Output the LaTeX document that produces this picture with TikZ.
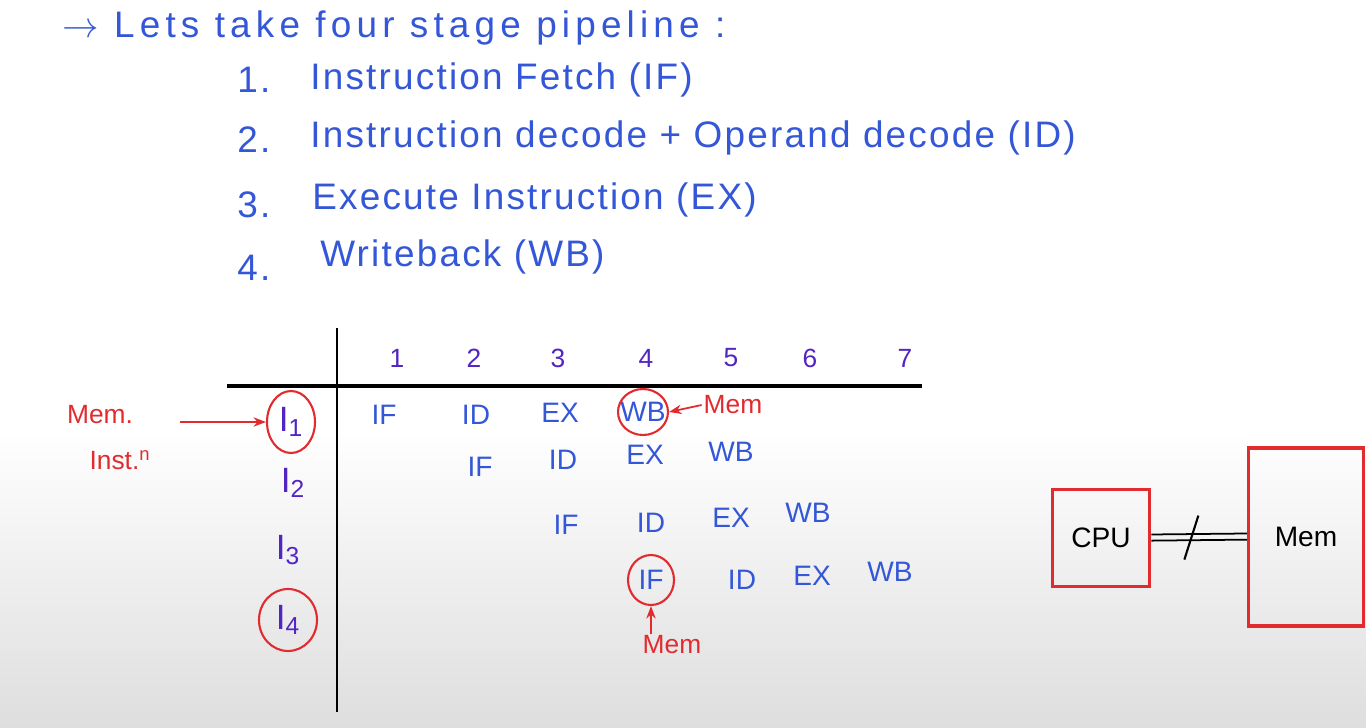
\documentclass[tikz,border=0pt]{standalone}
\usepackage{fontspec}
\setmainfont{Liberation Sans}
\usetikzlibrary{arrows.meta, positioning, calc, shapes.geometric}
\definecolor{penblue}{HTML}{3457D8}
\definecolor{penviolet}{HTML}{5224C4}
\definecolor{penred}{HTML}{E22B2F}

\begin{document}
\begin{tikzpicture}[x=0.02cm, y=-0.02cm,
    heading/.style={anchor=west, text=penblue, inner sep=0pt,
      font=\fontsize{21}{24}\selectfont\addfontfeature{LetterSpace=6}},
    cell/.style={text=penblue, inner sep=1pt, font=\fontsize{16}{18}\selectfont},
    colnum/.style={text=penviolet, font=\fontsize{15}{18}\selectfont},
    rowlab/.style={text=penviolet, font=\fontsize{20}{22}\selectfont},
    ring/.style={draw=penred, line width=1.2pt, ellipse, inner sep=0pt},
    note/.style={text=penred, inner sep=1pt, font=\fontsize{15}{18}\selectfont},
    redarrow/.style={penred, line width=1pt, -{Stealth[length=2.5mm]}},
    unitbox/.style={draw=penred, line width=2pt, font=\fontsize{16}{18}\selectfont}]
    \useasboundingbox (0,0) rectangle (1366,727);
    \fill[white] (0,0) rectangle (1366,727);
    \shade[top color=white, bottom color=black!13] (0,430) rectangle (1366,727);

    % the four stages
    \node[heading, font=\fontsize{21}{24}\selectfont\addfontfeature{LetterSpace=14}]
      (title) at (62,28) {$\rightarrow$ Lets take four stage pipeline :};
    \foreach \k/\y in {1/80,2/140,3/205,4/268}{%
      \node[heading] (num\k) at (237,\y) {\k.};}
    \node[heading] (st1) at (310,80) {Instruction Fetch (IF)};
    \node[heading] (st2) at (310,138) {Instruction decode + Operand decode (ID)};
    \node[heading] (st3) at (312,200) {Execute Instruction (EX)};
    \node[heading] (st4) at (320,257) {Writeback (WB)};

    % space-time table
    \draw[black, line width=1.7pt] (337,328) -- (337,712);
    \draw[black, line width=2.2pt] (227,386) -- (922,386);
    \foreach \n/\x in {1/397,2/474,3/558,4/646,5/731,6/810,7/905}{%
      \node[colnum] (col\n) at (\x,358) {\n};}
    \node[rowlab] (i1) at (291,422) {I\textsubscript{1}};
    \node[rowlab] (i2) at (293,483) {I\textsubscript{2}};
    \node[rowlab] (i3) at (288,550) {I\textsubscript{3}};
    \node[rowlab] (i4) at (288,620) {I\textsubscript{4}};

    \node[cell] (if1) at (384,415) {IF};
    \node[cell] (id1) at (476,415) {ID};
    \node[cell] (ex1) at (560,413) {EX};
    \node[cell] (wb1) at (643,412) {WB};
    \node[cell] (if2) at (480,467) {IF};
    \node[cell] (id2) at (563,460) {ID};
    \node[cell] (ex2) at (645,455) {EX};
    \node[cell] (wb2) at (731,452) {WB};
    \node[cell] (if3) at (566,525) {IF};
    \node[cell] (id3) at (651,523) {ID};
    \node[cell] (ex3) at (731,518) {EX};
    \node[cell] (wb3) at (808,513) {WB};
    \node[cell] (if4) at (651,580) {IF};
    \node[cell] (id4) at (742,580) {ID};
    \node[cell] (ex4) at (812,576) {EX};
    \node[cell] (wb4) at (890,572) {WB};

    % memory accesses
    \node[ring, minimum width=0.96cm, minimum height=1.24cm] (i1ring) at (i1) {};
    \node[ring, minimum width=1.16cm, minimum height=1.24cm] (i4ring) at (i4) {};
    \node[ring, minimum width=1cm, minimum height=0.92cm] (wb1ring) at (wb1) {};
    \node[ring, minimum width=0.92cm, minimum height=1cm] (if4ring) at (if4) {};

    \node[note] (memi) at (100,415) {Mem.};
    \node[note] (insti) at (120,460) {Inst.\textsuperscript{n}};
    \coordinate (tail) at (180,422);
    \draw[redarrow] (tail) -- (i1ring.west);
    \node[note] (memwb) at (733,405) {Mem};
    \draw[redarrow] (memwb.west) -- (wb1ring.east);
    \node[note] (memif) at (672,645) {Mem};
    \draw[redarrow] (if4ring.south |- memif.north) -- (if4ring.south);

    % cpu and memory
    \node[unitbox, minimum width=1.94cm, minimum height=1.94cm] (cpu) at (1101,538) {CPU};
    \node[unitbox, minimum width=2.3cm, minimum height=3.56cm] (mem) at (1306,537) {Mem};
    \draw[black, line width=1pt] ([yshift=2pt]cpu.east) -- ([yshift=2pt]mem.west);
    \draw[black, line width=1pt] ([yshift=-1.5pt]cpu.east) -- ([yshift=-1.5pt]mem.west);
    \draw[black, line width=1.2pt] ($(cpu.east)!0.42!(mem.west)$) ++(-0.14cm,-0.44cm)
      -- ++(0.28cm,0.88cm);
  \end{tikzpicture}
\end{document}
